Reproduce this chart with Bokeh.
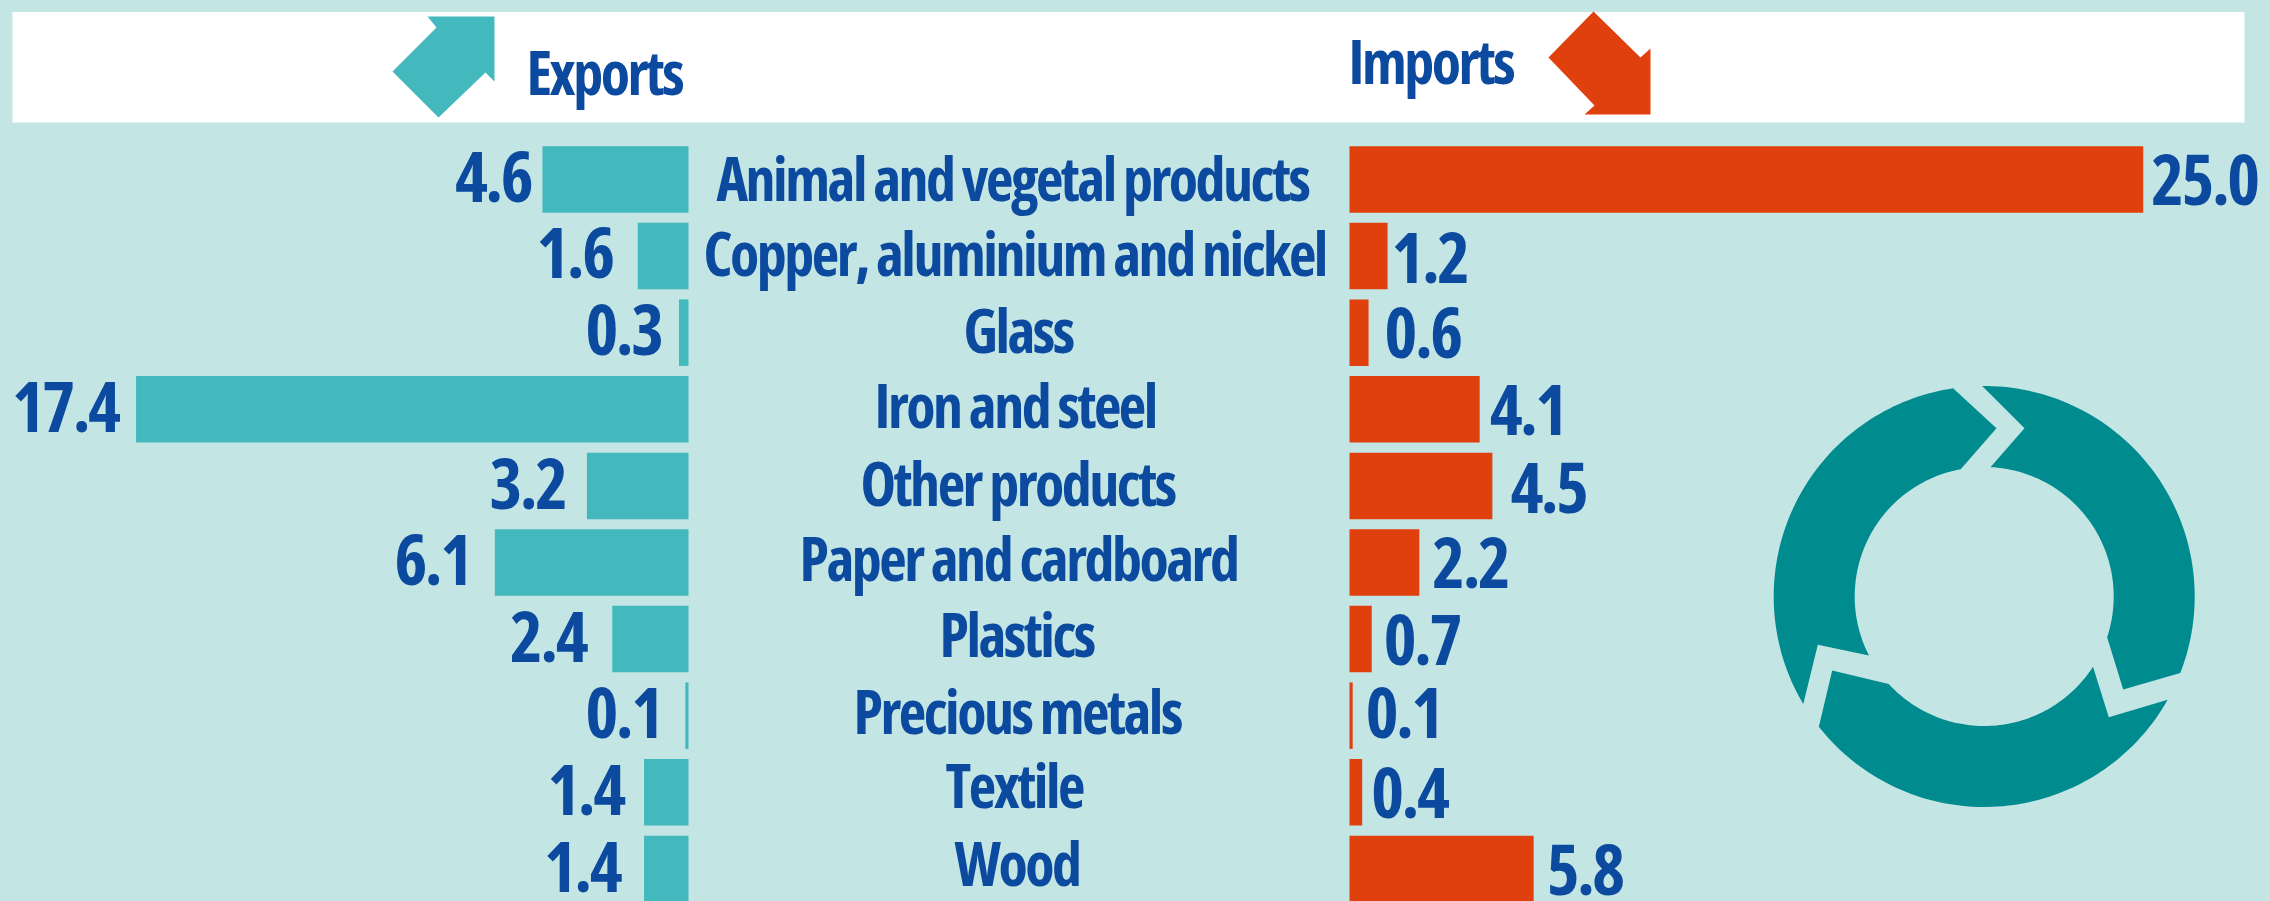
import numpy as np
from bokeh.plotting import figure
from bokeh.models import ColumnDataSource, Range1d, GlobalInlineStyleSheet
from bokeh.core.properties import value
from bokeh.embed import file_html
from bokeh.resources import INLINE

categories = ["Animal and vegetal products", "Copper, aluminium and nickel", "Glass",
              "Iron and steel", "Other products", "Paper and cardboard", "Plastics",
              "Precious metals", "Textile", "Wood"]
exports = [4.6, 1.6, 0.3, 17.4, 3.2, 6.1, 2.4, 0.1, 1.4, 1.4]
imports = [25.0, 1.2, 0.6, 4.1, 4.5, 2.2, 0.7, 0.1, 0.4, 5.8]

# label placement (px), kept apart from the data
exp_label_left = [457.5, 539, 588, 14.5, 492, 397, 512.5, 588, 550, 546.5]
cat_label_left = [719, 706, 966, 877, 863, 802, 942, 856, 948, 957]
imp_gap = [11, 7, 19, 13, 21, 16, 15, 16, 12, 16]
exp_base = [23, 22, 23, 23, 23.5, 23, 23.5, 23, 23, 23.5]
imp_base = [26, 27, 26, 26, 27.5, 26, 26.5, 23, 26, 26.5]
cat_base = [21, 19.4, 20, 19, 19.6, 18, 17.4, 18, 16, 16.6]

W, H = 2270, 901
BG, TEAL, ORANGE, INK, RING = "#c3e5e4", "#43b9be", "#e0400e", "#0b4a9e", "#008b8f"
FONT = value("Open Sans")
NUM_SIZE = "70px"
NUDGE_NUM = -26   # renderer's baseline shift at the number size
NUDGE_CAT = -23   # at 60px

PX_PER_UNIT = 31.75
EXP_ZERO = 688
IMP_ZERO = 1349
GAP = (IMP_ZERO - EXP_ZERO) / PX_PER_UNIT
ROW0, ROW_PITCH = 179, 76.6

p = figure(width=W, height=H, output_backend="svg", toolbar_location=None,
           x_range=Range1d(-EXP_ZERO / PX_PER_UNIT, (W - EXP_ZERO) / PX_PER_UNIT),
           y_range=Range1d((H - ROW0) / ROW_PITCH, -ROW0 / ROW_PITCH),
           min_border=0, outline_line_color=None,
           background_fill_color=BG, border_fill_color=BG)
p.stylesheets = [GlobalInlineStyleSheet(css=f"html,body{{background:{BG};margin:0;overflow:hidden;font-stretch:75%;letter-spacing:-2.5px}}")]
p.axis.visible = False
p.grid.visible = False
p.extra_x_ranges["px"] = Range1d(0, W)
p.extra_y_ranges["px"] = Range1d(H, 0)

# header band and arrows
p.quad(left=[12], right=[2244], top=[11.5], bottom=[122], fill_color="#ffffff", line_color=None,
       x_range_name="px", y_range_name="px")
p.patch([427, 494, 494, 485, 438, 392, 436], [16, 16, 81, 72, 117, 71, 27], fill_color=TEAL,
        line_color=None, x_range_name="px", y_range_name="px")
p.patch([1593, 1640, 1650, 1650, 1584, 1594, 1548], [11, 57, 48, 114, 114, 105, 57], fill_color=ORANGE,
        line_color=None, x_range_name="px", y_range_name="px")

# recycling ring
CX, CY, RO, RI = 1983.7, 596, 210.5, 129.5


def arc(start, end, r, clockwise=True):
    a0 = np.arctan2(start[1] - CY, start[0] - CX)
    a1 = np.arctan2(end[1] - CY, end[0] - CX)
    if clockwise and a1 < a0:
        a1 += 2 * np.pi
    if not clockwise and a1 > a0:
        a1 -= 2 * np.pi
    t = np.linspace(a0, a1, 80)
    return list(CX + r * np.cos(t)), list(CY + r * np.sin(t))


def segment(o0, o1, head, i1, i0, tail):
    ox, oy = arc(o0, o1, RO)
    ix, iy = arc(i1, i0, RI, clockwise=False)
    xs = ox + [q[0] for q in head] + ix + [q[0] for q in tail]
    ys = oy + [q[1] for q in head] + iy + [q[1] for q in tail]
    p.patch(xs, ys, fill_color=RING, line_color=None, x_range_name="px", y_range_name="px")


segment((1803.3, 703.3), (1952.7, 389), [(1996, 427.7)], (1960, 467.7), (1867.3, 655.7), [(1817.3, 644.3)])
segment((1981.7, 386), (2180, 672.7), [(2122.7, 689)], (2106.7, 636.7), (1990, 465.7), [(2024, 427.7)])
segment((2166.7, 699), (1820, 725), [(1831.7, 670)], (1888.3, 683.3), (2093.3, 666.7), [(2108.3, 716.7)])

p.text([526], [94 + NUDGE_CAT], text=["Exports"], text_font=FONT, text_font_style="bold", text_font_size="60px",
       text_color=INK, text_baseline="alphabetic", x_range_name="px", y_range_name="px")
p.text([1348], [83 + NUDGE_CAT], text=["Imports"], text_font=FONT, text_font_style="bold", text_font_size="60px",
       text_color=INK, text_baseline="alphabetic", x_range_name="px", y_range_name="px")

# data
rows = list(range(len(categories)))
src = ColumnDataSource(dict(
    row=rows, cat=categories,
    exp=[-v for v in exports], imp_left=[GAP] * len(rows), imp=[GAP + v for v in imports],
    exp_txt=[f"{v:.1f}" for v in exports], imp_txt=[f"{v:.1f}" for v in imports],
    exp_dx=[left - 3 - (EXP_ZERO - v * PX_PER_UNIT) for left, v in zip(exp_label_left, exports)],
    imp_dx=[g - 3 for g in imp_gap],
    cat_dx=[left - 3 - EXP_ZERO for left in cat_label_left],
    zero=[0] * len(rows),
    exp_dy=[d + NUDGE_NUM for d in exp_base], imp_dy=[d + NUDGE_NUM for d in imp_base],
    cat_dy=[d + NUDGE_CAT for d in cat_base],
))
p.hbar(y="row", left="exp", right=0, height=0.868, source=src, fill_color=TEAL, line_color=None)
p.hbar(y="row", left="imp_left", right="imp", height=0.868, source=src, fill_color=ORANGE, line_color=None)
p.text(x="exp", y="row", text="exp_txt", x_offset="exp_dx", y_offset="exp_dy", source=src, text_align="left",
       text_baseline="alphabetic", text_font=FONT, text_font_style="bold", text_font_size=NUM_SIZE, text_color=INK)
p.text(x="imp", y="row", text="imp_txt", x_offset="imp_dx", y_offset="imp_dy", source=src, text_align="left",
       text_baseline="alphabetic", text_font=FONT, text_font_style="bold", text_font_size=NUM_SIZE, text_color=INK)
p.text(x="zero", y="row", text="cat", x_offset="cat_dx", y_offset="cat_dy", source=src, text_align="left",
       text_baseline="alphabetic", text_font=FONT, text_font_style="bold", text_font_size="60px", text_color=INK)

open("out.html", "w").write(file_html(p, INLINE))
